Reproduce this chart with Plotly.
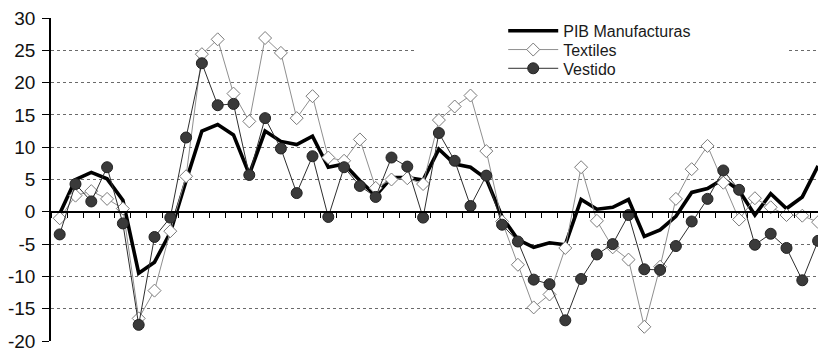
import plotly.graph_objects as go

# Quarterly periods (no labels shown on the axis)
periods = list(range(49))

pib_manufacturas = [-0.3, 5.0, 6.1, 5.1, 1.8, -9.5, -7.8, -3.2, 4.8, 12.5,
                    13.5, 11.9, 5.8, 12.5, 10.9, 10.4, 11.7, 6.9, 7.4, 4.8,
                    2.5, 5.3, 5.3, 4.9, 9.7, 7.4, 6.9, 5.1, -0.8, -4.3,
                    -5.5, -4.8, -5.1, 1.9, 0.4, 0.7, 1.9, -3.8, -2.8, -0.7,
                    3.0, 3.6, 5.1, 3.3, -0.5, 2.8, 0.5, 2.3, 7.1]

textiles = [-1.0, 2.5, 3.2, 2.0, 0.5, -16.5, -12.2, -3.0, 5.5, 24.4,
            26.7, 18.3, 14.0, 26.9, 24.6, 14.5, 17.9, 8.4, 7.9, 11.2,
            3.7, 5.0, 5.2, 4.3, 14.2, 16.3, 18.0, 9.4, -1.5, -8.2,
            -14.8, -12.8, -5.6, 6.9, -1.4, -5.5, -7.4, -17.8, -8.5, 2.0,
            6.6, 10.2, 4.5, -1.2, 2.1, 0.7, -0.5, -0.6, -1.6]

vestido = [-3.5, 4.3, 1.6, 6.9, -1.8, -17.5, -3.9, -0.9, 11.5, 23.0,
           16.5, 16.7, 5.7, 14.5, 9.8, 2.9, 8.6, -0.8, 6.9, 4.0,
           2.3, 8.4, 7.0, -0.9, 12.2, 7.9, 0.9, 5.6, -2.0, -4.6,
           -10.5, -11.2, -16.8, -10.4, -6.6, -5.0, -0.5, -8.9, -9.0, -5.3,
           -1.5, 2.0, 6.4, 3.4, -5.1, -3.4, -5.6, -10.6, -4.5]

y_tick_values = [-20, -15, -10, -5, 0, 5, 10, 15, 20, 25, 30]
y_tick_labels = ["-20", "-15", "-10", "-5", "0", "5", "10", "15", "20", "25", "30"]

Y_MIN, Y_MAX = -20, 30
FONT = "Liberation Sans, Arial, sans-serif"

fig = go.Figure()
fig.add_trace(go.Scatter(
    x=periods, y=pib_manufacturas, name="PIB Manufacturas", mode="lines",
    line=dict(color="#000000", width=3.6), legend="legend"))
fig.add_trace(go.Scatter(
    x=periods, y=textiles, name="Textiles", mode="lines+markers",
    line=dict(color="#8f8f8f", width=1),
    marker=dict(symbol="diamond", size=10, color="#ffffff",
                line=dict(color="#7a7a7a", width=1)), legend="legend2"))
fig.add_trace(go.Scatter(
    x=periods, y=vestido, name="Vestido", mode="lines+markers",
    line=dict(color="#2e2e2e", width=1),
    marker=dict(symbol="circle", size=11, color="#3a3a3a",
                line=dict(color="#222222", width=1)), legend="legend3"))

# category-boundary tick marks along the zero line
boundaries = [p - 0.5 for p in periods] + [periods[-1] + 0.5]

fig.update_xaxes(
    range=[-0.55, periods[-1] + 0.5],
    showgrid=False, zeroline=False, showticklabels=False,
    tickmode="array", tickvals=boundaries,
    ticks="outside", ticklen=5, tickcolor="#000000", tickwidth=1,
    showline=True, linecolor="#000000", linewidth=1.5,
    anchor="free", position=(0 - Y_MIN) / (Y_MAX - Y_MIN),
)
fig.update_yaxes(
    range=[Y_MIN, Y_MAX],
    tickmode="array", tickvals=y_tick_values, ticktext=y_tick_labels,
    showgrid=True, gridcolor="#6a6a6a", gridwidth=1, griddash="3px,3px",
    zeroline=False,
    showline=True, linecolor="#000000", linewidth=1.5,
    ticks="outside", ticklen=7, tickcolor="#000000",
    ticklabelstandoff=3, ticklabeloverflow="allow",
    tickfont=dict(family=FONT, size=19, color="#111111"),
)

# white panel behind the legend (hides the gridline there; no data in this area)
fig.add_shape(type="rect", xref="paper", yref="paper",
              x0=0.469, x1=0.95, y0=0.85, y1=0.97,
              fillcolor="#ffffff", line=dict(width=0), layer="above")

legend_common = dict(xanchor="left", yanchor="middle", x=0.5835,
                     bgcolor="rgba(0,0,0,0)", borderwidth=0, itemwidth=50,
                     font=dict(family=FONT, size=16, color="#1a1a1a"))

fig.update_layout(
    width=818, height=344,
    margin=dict(l=40, r=0, t=9, b=8),
    paper_bgcolor="#ffffff", plot_bgcolor="#ffffff",
    showlegend=True,
    legend=dict(y=0.960, **legend_common),
    legend2=dict(y=0.902, **legend_common),
    legend3=dict(y=0.844, **legend_common),
    font=dict(family=FONT),
)

fig.write_html("out.html")
